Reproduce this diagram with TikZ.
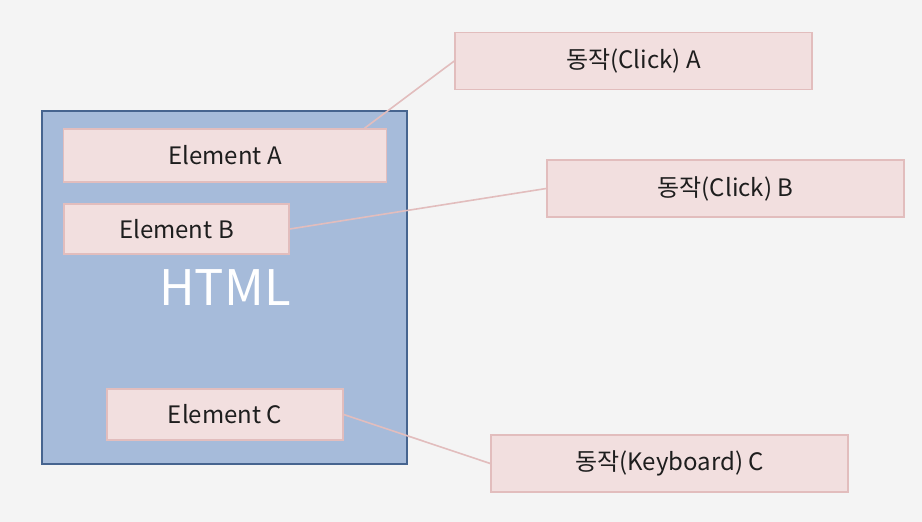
\documentclass[tikz,border=0pt]{standalone}
\usepackage{fontspec}
\setmainfont{Noto Sans CJK KR}
\usetikzlibrary{calc}
\definecolor{bg}{HTML}{F4F4F4}
\definecolor{pinkfill}{HTML}{F2DFDF}
\definecolor{pinkline}{HTML}{E2BDBD}
\definecolor{blufill}{HTML}{A6BBDA}
\definecolor{bluline}{HTML}{46648F}
\definecolor{txt}{HTML}{1E1E1E}
\tikzset{
  pinkbox/.style={rectangle, draw=pinkline, fill=pinkfill, line width=1.5pt, inner sep=0pt, text=txt, font=\fontsize{24}{28}\selectfont},
  link/.style={draw=pinkline, line width=1.6pt}
}
\begin{document}
\begin{tikzpicture}[x=1pt,y=-1pt]
\fill[bg] (0,0) rectangle (922,522);
\useasboundingbox (0,0) rectangle (922,522);
\node[rectangle, draw=bluline, fill=blufill, line width=1.8pt, minimum width=365pt, minimum height=353pt, inner sep=0pt] (html) at (224.5,287.5) {};
\node[text=white, font=\fontsize{49}{56}\selectfont] (htmllabel) at (225,288) {HTML};
\node[pinkbox, minimum width=323pt, minimum height=53pt] (elA) at (225,155.5) {Element A};
\node[pinkbox, minimum width=225pt, minimum height=50pt] (elB) at (176.5,229) {Element B};
\node[pinkbox, minimum width=236pt, minimum height=51pt] (elC) at (225,414.5) {Element C};
\node[pinkbox, minimum width=357pt, minimum height=57pt] (actA) at (633.5,61) {동작(Click) A};
\node[pinkbox, minimum width=357pt, minimum height=57pt] (actB) at (725.5,188.5) {동작(Click) B};
\node[pinkbox, minimum width=357pt, minimum height=57pt] (actC) at (669.5,463.5) {동작(Keyboard) C};
\coordinate (aTop) at ($(elA.north west)!0.93!(elA.north east)$);
\draw[link] (aTop) -- (actA.west);
\draw[link] (elB.east) -- (actB.west);
\draw[link] (elC.east) -- (actC.west);
\end{tikzpicture}
\end{document}
